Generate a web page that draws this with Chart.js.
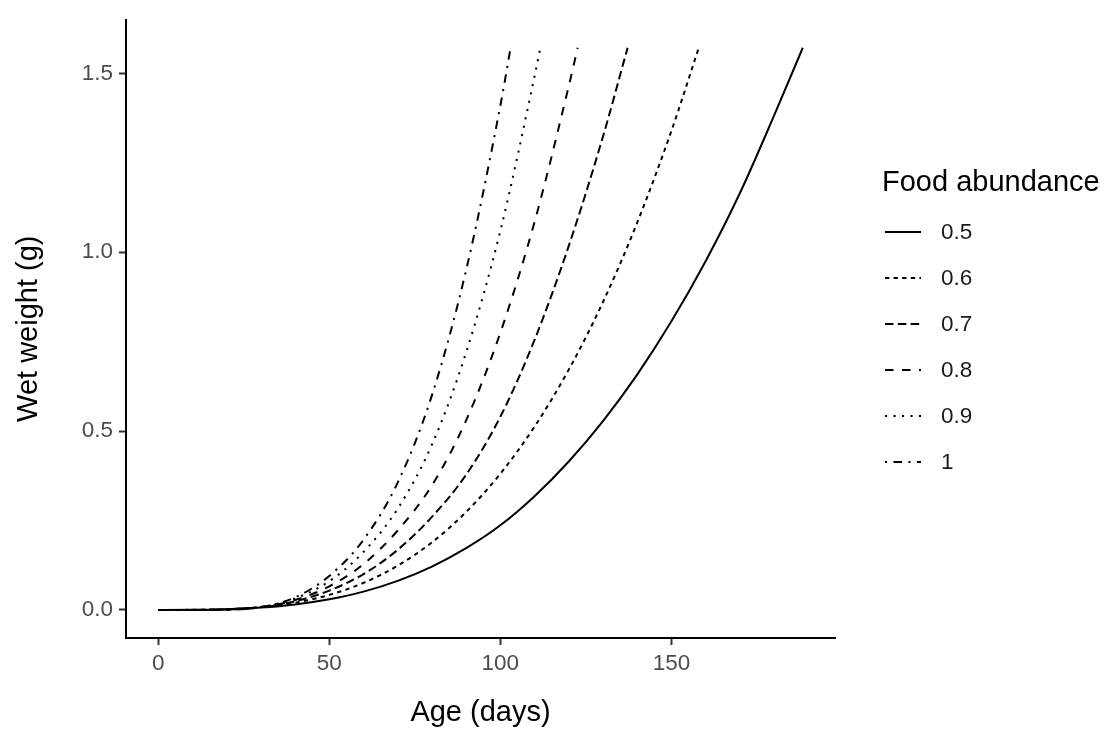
<!DOCTYPE html>
<html>
<head>
<meta charset="utf-8">
<script src="https://cdn.jsdelivr.net/npm/chart.js@4"></script>
<style>
  html, body { margin: 0; padding: 0; background: #fff; }
  #wrap { width: 1111px; height: 744px; }
</style>
</head>
<body>
<div id="wrap"><canvas id="growthChart" width="1111" height="744"></canvas></div>
<script>
// Data (age in days, wet weight in g)
const ages = [0, 10, 20, 30, 40, 50, 60, 70, 80, 90, 100, 110, 120, 130, 140, 150, 160, 170, 180];
const abundance = ['0.5', '0.6', '0.7', '0.8', '0.9', '1'];

const weight05 = [0, 0.0002, 0.0019, 0.0064, 0.0151, 0.0296, 0.0511, 0.0812, 0.1211, 0.1725, 0.2366, 0.318, 0.415, 0.528, 0.658, 0.807, 0.975, 1.165, 1.382];
const weight06 = [0, 0.0001, 0.0018, 0.0076, 0.0201, 0.0419, 0.0756, 0.1237, 0.1889, 0.2738, 0.3808, 0.5126, 0.6718, 0.861, 1.0827, 1.3395];
const weight07 = [0, 0, 0.0013, 0.0078, 0.0239, 0.054, 0.1, 0.168, 0.26, 0.378, 0.54, 0.755, 1.018, 1.3236];
const weight08 = [0, 0, 0.0008, 0.0078, 0.0276, 0.066, 0.128, 0.222, 0.348, 0.53, 0.775, 1.085, 1.4647];
const weight09 = [0, 0, 0.0006, 0.008, 0.0322, 0.08, 0.162, 0.283, 0.462, 0.72, 1.06, 1.4922];
const weight10 = [0, 0, 0.0003, 0.0078, 0.035, 0.095, 0.196, 0.356, 0.6, 0.95, 1.41];

// last point of each curve (where the lines stop at the top)
const endAge = [188.4, 158, 137.2, 122.6, 111.7, 103];
const endWeight = 1.572;

const xTicks = [0, 50, 100, 150];
const yTicks = [0, 0.5, 1.0, 1.5];

const weights = [weight05, weight06, weight07, weight08, weight09, weight10];
const dashes = [[], [4.3, 4.3], [8.5, 4.3], [8.5, 8.5], [2.1, 6.4], [2.1, 6.4, 8.5, 6.4]];

const FONT = '"Liberation Sans", Arial, Helvetica, sans-serif';

function buildPoints(values, lastAge) {
    const pts = values.map((v, i) => ({ x: ages[i], y: v }));
    pts.push({ x: lastAge, y: endWeight });
    return pts;
}

const datasets = abundance.map((label, i) => ({
    label: label,
    data: buildPoints(weights[i], endAge[i]),
    borderColor: '#000',
    borderWidth: 2,
    borderDash: dashes[i],
    borderCapStyle: 'butt',
    pointRadius: 0,
    fill: false,
    cubicInterpolationMode: 'monotone'
}));

// legend drawn at the right like the ggplot guide
const sideLegend = {
    id: 'sideLegend',
    afterDraw(chart) {
        const ctx = chart.ctx;
        ctx.save();
        ctx.fillStyle = '#000';
        ctx.font = `29px ${FONT}`;
        ctx.textBaseline = 'alphabetic';
        ctx.fillText('Food abundance', 882, 191);
        chart.data.datasets.forEach((ds, i) => {
            const y = 232 + i * 46;
            ctx.strokeStyle = ds.borderColor;
            ctx.lineWidth = 2;
            ctx.lineCap = 'butt';
            ctx.setLineDash(ds.borderDash || []);
            ctx.beginPath();
            ctx.moveTo(885, y);
            ctx.lineTo(921, y);
            ctx.stroke();
            ctx.setLineDash([]);
            ctx.font = `22.5px ${FONT}`;
            ctx.textBaseline = 'middle';
            ctx.fillStyle = '#1a1a1a';
            ctx.fillText(ds.label, 941, y + 1);
        });
        ctx.restore();
    }
};

new Chart(document.getElementById('growthChart').getContext('2d'), {
    type: 'line',
    data: { datasets },
    plugins: [sideLegend],
    options: {
        responsive: false,
        animation: false,
        layout: { padding: { top: 14, right: 276, left: 0, bottom: 0 } },
        plugins: {
            legend: { display: false },
            tooltip: { enabled: false }
        },
        scales: {
            x: {
                type: 'linear',
                min: -9.42,
                max: 197.82,
                afterFit: s => { s.height = 106; },
                afterBuildTicks: s => { s.ticks = xTicks.map(v => ({ value: v })); },
                border: { display: true, color: '#000', width: 2 },
                grid: { drawOnChartArea: false, drawTicks: true, tickLength: 7, tickColor: '#333', tickWidth: 2 },
                ticks: { color: '#4d4d4d', font: { size: 22.5, family: FONT }, padding: 5, maxRotation: 0 },
                title: {
                    display: true, text: 'Age (days)', color: '#000',
                    font: { size: 29, family: FONT }, padding: { top: 0, bottom: 14 }
                }
            },
            y: {
                type: 'linear',
                min: -0.0786,
                max: 1.651,
                afterFit: s => { s.width = 126; },
                afterBuildTicks: s => { s.ticks = yTicks.map(v => ({ value: v })); },
                border: { display: true, color: '#000', width: 2 },
                grid: { drawOnChartArea: false, drawTicks: true, tickLength: 7, tickColor: '#333', tickWidth: 2 },
                ticks: {
                    color: '#4d4d4d', font: { size: 22.5, family: FONT }, padding: 6,
                    callback: v => Number(v).toFixed(1)
                },
                title: {
                    display: true, text: 'Wet weight (g)', color: '#000',
                    font: { size: 29, family: FONT }, padding: { top: 12, bottom: 0 }
                }
            }
        }
    }
});
</script>
</body>
</html>
